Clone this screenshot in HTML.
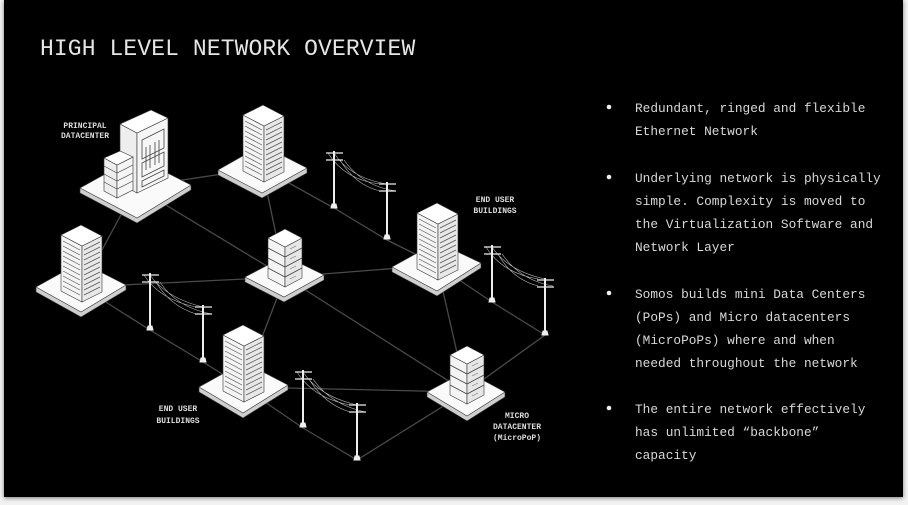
<!DOCTYPE html>
<html><head><meta charset="utf-8"><style>
html,body{margin:0;padding:0;background:#f2f2f2;}
#s{position:absolute;left:4px;top:0;width:899px;height:497px;background:#000;box-shadow:0 1px 4px rgba(0,0,0,.5);}
svg{position:absolute;left:0;top:0;}
</style></head><body>
<div id="s"></div>
<svg width="908" height="505" viewBox="0 0 908 505" font-family="'Liberation Mono',monospace">
<defs>
<g id="tower">
 <polygon points="-21,-11 0,0 0,-56 -21,-67" fill="#f4f4f4" stroke="#333" stroke-width=".6"/>
 <polygon points="0,0 20,-10 20,-66 0,-56" fill="#e8e8e8" stroke="#333" stroke-width=".6"/>
 <polygon points="-21,-67 0,-56 20,-66 -1,-77" fill="#fff" stroke="#333" stroke-width=".6"/>
 <g stroke="#555" stroke-width=".7" fill="none">
  <path d="M-19,-16L-2,-7M-19,-21L-2,-12M-19,-26L-2,-17M-19,-31L-2,-22M-19,-36L-2,-27M-19,-41L-2,-32M-19,-46L-2,-37M-19,-51L-2,-42M-19,-56L-2,-47M-19,-61L-2,-52"/>
  <path d="M2,-7L18,-15M2,-12L18,-20M2,-17L18,-25M2,-22L18,-30M2,-27L18,-35M2,-32L18,-40M2,-37L18,-45M2,-42L18,-50M2,-47L18,-55M2,-52L18,-60"/>
 </g>
</g>
<g id="stack">
 <polygon points="-17,-9 0,0 0,-40 -17,-49" fill="#f4f4f4" stroke="#333" stroke-width=".6"/>
 <polygon points="0,0 17,-9 17,-49 0,-40" fill="#e6e6e6" stroke="#333" stroke-width=".6"/>
 <polygon points="-17,-49 0,-40 17,-49 0,-58" fill="#fff" stroke="#333" stroke-width=".6"/>
 <g stroke="#444" stroke-width=".8" fill="none"><path d="M-17,-19L0,-10L17,-19M-17,-29L0,-20L17,-29M-17,-39L0,-30L17,-39"/></g>
 <g stroke="#777" stroke-width=".6" fill="none"><path d="M5,-8L11,-11M5,-18L11,-21M5,-28L11,-31M5,-38L11,-41"/></g>
</g>
<g id="pole" stroke="#eee" fill="none">
 <path d="M0,0V57" stroke-width="2"/>
 <path d="M-8,2H9M-8,9H9" stroke-width="1.2"/>
 <path d="M-3,57h6l-1,-4h-4z" fill="#eee"/>
</g>
</defs>

<text x="40" y="55" fill="#e6e6e6" font-size="23" letter-spacing="0.1">HIGH LEVEL NETWORK OVERVIEW</text>

<g stroke="#4a4a4a" stroke-width="1.3" fill="none">
 <path d="M136,187L262,168"/>
 <path d="M136,187L82,287"/>
 <path d="M136,187L285,277"/>
 <path d="M262,168L285,277"/>
 <path d="M262,168L334,208L387,240L437,265"/>
 <path d="M82,287L285,277L437,265"/>
 <path d="M82,287L150,330L203,362L243,387"/>
 <path d="M285,277L243,387"/>
 <path d="M285,277L466,392"/>
 <path d="M437,265L466,392"/>
 <path d="M437,265L492,302L545,335L466,392"/>
 <path d="M243,387L466,392"/>
 <path d="M243,387L303,428L357,460L466,392"/>
</g>

<g stroke="#bbb" stroke-width=".6" fill="none">
 <path d="M328,153Q345,180 380,184M334,153Q350,178 387,184M340,160Q355,185 380,191M344,160Q362,186 396,191"/>
 <path d="M144,275Q160,300 196,307M150,275Q166,298 203,307M156,282Q170,306 196,314M160,282Q176,307 211,314"/>
 <path d="M297,372Q313,398 350,405M303,372Q319,396 357,405M309,379Q324,404 350,412M313,379Q330,404 365,412"/>
 <path d="M486,247Q502,273 538,279M492,247Q508,271 545,279M498,254Q512,279 538,286M502,254Q520,280 553,286"/>
</g>
<use href="#pole" x="334" y="151"/>
<use href="#pole" x="387" y="182"/>
<use href="#pole" x="150" y="273"/>
<use href="#pole" x="203" y="305"/>
<use href="#pole" x="303" y="370"/>
<use href="#pole" x="357" y="403"/>
<use href="#pole" x="492" y="245"/>
<use href="#pole" x="545" y="278"/>

<g stroke="#333" stroke-width=".6">
 <polygon points="80,188 136,157 191,185 191,190 137,223 80,193" fill="#cfcfcf"/>
 <polygon points="80,188 136,157 191,185 137,218" fill="#fafafa"/>
 <polygon points="218,170 262,145 307,168 307,173 262,198 218,175" fill="#cfcfcf"/>
 <polygon points="218,170 262,145 307,168 262,193" fill="#fafafa"/>
 <polygon points="36,287 81,262 126,285 126,290 81,317 36,292" fill="#cfcfcf"/>
 <polygon points="36,287 81,262 126,285 81,312" fill="#fafafa"/>
 <polygon points="245,277 285,256 324,275 324,280 284,302 245,282" fill="#cfcfcf"/>
 <polygon points="245,277 285,256 324,275 284,297" fill="#fafafa"/>
 <polygon points="392,267 437,242 481,263 481,268 437,296 392,272" fill="#cfcfcf"/>
 <polygon points="392,267 437,242 481,263 437,291" fill="#fafafa"/>
 <polygon points="199,387 244,362 288,385 288,390 243,418 199,392" fill="#cfcfcf"/>
 <polygon points="199,387 244,362 288,385 243,413" fill="#fafafa"/>
 <polygon points="427,392 466,371 505,392 505,397 467,421 427,397" fill="#cfcfcf"/>
 <polygon points="427,392 466,371 505,392 467,416" fill="#fafafa"/>
</g>

<use href="#tower" x="264" y="182"/>
<use href="#tower" x="82" y="302"/>
<use href="#tower" x="438" y="280"/>
<use href="#tower" x="244" y="402"/>
<use href="#stack" x="285" y="287"/>
<use href="#stack" x="467" y="404"/>

<g stroke="#333" stroke-width=".6">
 <polygon points="120,184 137,193 137,133 120,124" fill="#eee"/>
 <polygon points="137,193 168,178 168,118 137,133" fill="#f6f6f6"/>
 <polygon points="120,124 137,133 168,118 151,110" fill="#fff"/>
 <g fill="none" stroke="#444" stroke-width=".8">
  <polygon points="142,140 164,129 164,148 142,159"/>
  <polygon points="142,163 164,152 164,166 142,177"/>
  <polygon points="142,181 164,170 164,176 142,187"/>
  <path d="M146,147V170M150,145V168M155,142V165M159,140V163"/>
 </g>
 <polygon points="104,191 117,198 117,165 104,158" fill="#eee"/>
 <polygon points="117,198 133,190 133,157 117,165" fill="#f6f6f6"/>
 <polygon points="104,158 117,165 133,157 120,151" fill="#fff"/>
 <path d="M104,166L117,173L133,165M104,174L117,181L133,173M104,182L117,189L133,181" stroke="#444" fill="none"/>
</g>

<g fill="#ddd" font-size="8" font-weight="bold" text-anchor="middle">
 <text x="85" y="128">PRINCIPAL</text><text x="85" y="138">DATACENTER</text>
 <text x="495" y="202">END USER</text><text x="495" y="213">BUILDINGS</text>
 <text x="178" y="411">END USER</text><text x="178" y="423">BUILDINGS</text>
 <text x="517" y="418">MICRO</text><text x="517" y="429">DATACENTER</text><text x="517" y="440">(MicroPoP)</text>
</g>

<g fill="#d8d8d8" font-size="12.8">
 <circle cx="609" cy="107" r="2.3" fill="#eee"/>
 <text x="635" y="112">Redundant, ringed and flexible</text>
 <text x="635" y="135">Ethernet Network</text>
 <circle cx="609" cy="177" r="2.3" fill="#eee"/>
 <text x="635" y="182">Underlying network is physically</text>
 <text x="635" y="205">simple. Complexity is moved to</text>
 <text x="635" y="228">the Virtualization Software and</text>
 <text x="635" y="251">Network Layer</text>
 <circle cx="609" cy="293" r="2.3" fill="#eee"/>
 <text x="635" y="298">Somos builds mini Data Centers</text>
 <text x="635" y="321">(PoPs) and Micro datacenters</text>
 <text x="635" y="344">(MicroPoPs) where and when</text>
 <text x="635" y="367">needed throughout the network</text>
 <circle cx="609" cy="408" r="2.3" fill="#eee"/>
 <text x="635" y="413">The entire network effectively</text>
 <text x="635" y="436">has unlimited “backbone”</text>
 <text x="635" y="459">capacity</text>
</g>
</svg>
</body></html>
